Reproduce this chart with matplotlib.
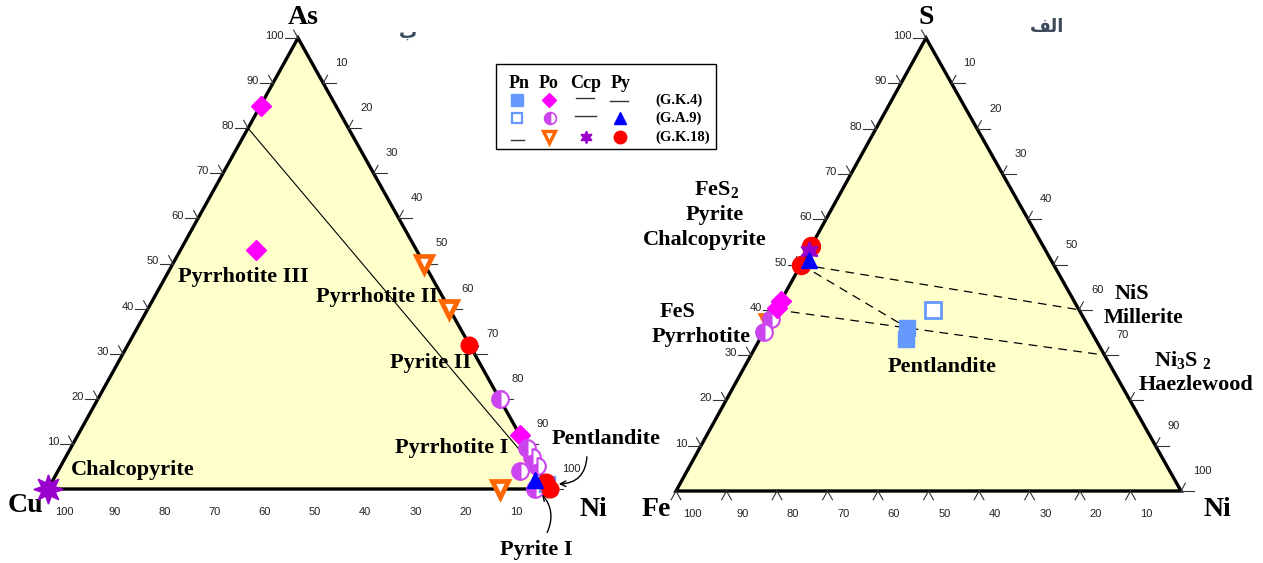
import numpy as np
import matplotlib.pyplot as plt
from matplotlib.patches import Polygon, Rectangle

plt.rcParams['mathtext.fontset'] = 'custom'
plt.rcParams['mathtext.rm'] = 'Liberation Serif:bold'
plt.rcParams['mathtext.it'] = 'Liberation Serif:bold'
plt.rcParams['mathtext.bf'] = 'Liberation Serif:bold'

# compositions in percent: (top, left, right) corner of each diagram
# left diagram: As - Cu - Ni
po_gk4_asni = [(85, 15, 0), (53, 32, 15), (12, 0, 88)]
po_ga9_asni = [(20, 0, 80), (9, 0, 91), (7, 0, 93), (5, 0, 95), (4, 4, 92), (0, 3, 97)]
po_gk18_asni = [(50, 0, 50), (40, 0, 60), (0, 10, 90)]
py_gk18_asni = [(32, 0, 68), (1.5, 0, 98.5), (0, 0, 100)]
py_ga9_asni = [(2, 2, 96)]
pn_gk4_asni = [(1, 0, 99)]
ccp_gk18_asni = [(0, 100, 0)]
tie_asni = [((80, 20, 0), (2, 0, 98))]

# right diagram: S - Fe - Ni
pn_gk4_sni = [(36, 36, 28), (33.5, 37.5, 29)]
pn_ga9_sni = [(40, 29, 31)]
po_gk4_sni = [(42, 58, 0), (40.5, 59.5, 0)]
po_ga9_sni = [(38, 62, 0), (35, 65, 0)]
po_gk18_sni = [(37, 63, 0)]
ccp_gk18_sni = [(53, 47, 0)]
py_ga9_sni = [(51, 48, 1)]
py_gk18_sni = [(54, 46, 0), (50, 50, 0)]
tie_sni = [((50, 50, 0), (40, 0, 60)),
           ((50, 50, 0), (36, 36, 28)),
           ((40, 60, 0), (30, 0, 70))]

ticks = [10, 20, 30, 40, 50, 60, 70, 80, 90, 100]

# corner positions (top, left, right) in figure pixels
tri_a = np.array([(298, 38), (48, 489), (550, 489)], float)
tri_b = np.array([(926, 38), (676, 491), (1181, 491)], float)

BLUE_SQ = '#6699ff'
MAGENTA = '#ff00ff'
PURPLE = '#cc44ee'
ORANGE = '#ff6600'
STAR = '#9900cc'
RED = '#ff0000'
TRI = '#0000ff'
serif = 'Liberation Serif'


def tern(tri, comps):
    c = np.array(comps, float) / 100.0
    c = np.atleast_2d(c)
    return c @ tri


fig = plt.figure(figsize=(12.63, 5.63), dpi=100)
ax = fig.add_axes([0, 0, 1, 1])
ax.set_xlim(0, 1263)
ax.set_ylim(563, 0)
ax.axis('off')


def frame(tri, bottom_ticks, skip_right=()):
    T, L, R = tri
    ax.add_patch(Polygon(tri, closed=True, facecolor='#ffffcc',
                         edgecolor='black', lw=2.4, zorder=1))
    tl = 11
    dTR = (T - R) / np.linalg.norm(T - R)
    dTL = (T - L) / np.linalg.norm(T - L)
    kw = dict(color='#333333', lw=0.8, zorder=2)
    for v in ticks:
        f = v / 100.0
        # left edge: top component
        p = f * T + (1 - f) * L
        ax.plot([p[0], p[0] - tl - 2], [p[1], p[1]], **kw)
        q = p + dTR * 9
        ax.plot([p[0], q[0]], [p[1], q[1]], **kw)
        ax.text(p[0] - 14, p[1] - 2, str(v), ha='right', va='center',
                fontsize=8, family='Liberation Sans', color='#222222')
        # right edge: right component
        p = f * R + (1 - f) * T
        ax.plot([p[0], p[0] + tl + 2], [p[1], p[1]], **kw)
        q = p + dTL * 9
        ax.plot([p[0], q[0]], [p[1], q[1]], **kw)
        if v not in skip_right:
            ax.text(p[0] + 12, p[1] - 20, str(v), ha='left', va='center',
                    fontsize=8, family='Liberation Sans', color='#222222')
        # bottom edge: left component
        p = f * L + (1 - f) * R
        if bottom_ticks:
            for d in (-dTR, -dTL):
                q = p + d * 10
                ax.plot([p[0], q[0]], [p[1], q[1]], **kw)
        ax.text(p[0] + 16, p[1] + 23, str(v), ha='center', va='center',
                fontsize=8, family='Liberation Sans', color='#222222')


def pts(tri, comps, **kw):
    xy = tern(tri, comps)
    ax.plot(xy[:, 0], xy[:, 1], ls='none', zorder=4, **kw)


frame(tri_a, False)
frame(tri_b, True, skip_right=(80,))

for a, b in tie_asni:
    xy = tern(tri_a, [a, b])
    ax.plot(xy[:, 0], xy[:, 1], color='black', lw=0.8, zorder=3)
for a, b in tie_sni:
    xy = tern(tri_b, [a, b])
    ax.plot(xy[:, 0], xy[:, 1], color='black', lw=0.9, ls=(0, (7, 5)), zorder=3)

half = dict(marker='o', fillstyle='left', markerfacecolor=PURPLE,
            markerfacecoloralt='white', markeredgecolor=PURPLE, mew=1.5)
vtri = dict(marker='v', markerfacecolor='white', markeredgecolor=ORANGE, mew=3.4)

# left diagram markers
pts(tri_a, po_gk4_asni, marker='D', color=MAGENTA, ms=10)
pts(tri_a, po_ga9_asni, ms=12, **half)
pts(tri_a, po_gk18_asni, ms=11, **vtri)
pts(tri_a, pn_gk4_asni, marker='s', color=BLUE_SQ, ms=12)
pts(tri_a, py_gk18_asni, marker='o', color=RED, ms=12)
pts(tri_a, py_ga9_asni, marker='^', color=TRI, ms=12)
pts(tri_a, ccp_gk18_asni, marker=(8, 1, 0), color=STAR, ms=21)

# right diagram markers
pts(tri_b, pn_gk4_sni, marker='s', color=BLUE_SQ, ms=11)
pts(tri_b, pn_ga9_sni, marker='s', markerfacecolor='white',
    markeredgecolor=BLUE_SQ, mew=2, ms=11)
pts(tri_b, po_gk18_sni, ms=11, **vtri)
pts(tri_b, po_ga9_sni, ms=12, **half)
pts(tri_b, po_gk4_sni, marker='D', color=MAGENTA, ms=10)
pts(tri_b, py_gk18_sni, marker='o', color=RED, ms=13)
pts(tri_b, ccp_gk18_sni, marker=(6, 1, 0), color=STAR, ms=14)
pts(tri_b, py_ga9_sni, marker='^', color=TRI, ms=12)

big = dict(family=serif, weight='bold', fontsize=20, ha='center', va='center')
lab = dict(family=serif, weight='bold', fontsize=16, ha='center', va='center')

# left diagram text
ax.text(303, 17, 'As', **big)
ax.text(25, 506, 'Cu', **big)
ax.text(593, 509, 'Ni', **big)
ax.text(243, 277, 'Pyrrhotite III', **lab)
ax.text(377, 297, 'Pyrrhotite II', **lab)
ax.text(431, 363, 'Pyrite II', **lab)
ax.text(452, 448, 'Pyrrhotite I', **lab)
ax.text(606, 439, 'Pentlandite', **lab)
ax.text(133, 470, 'Chalcopyrite', **lab)
ax.text(536, 550, 'Pyrite I', **lab)
ax.annotate('', xy=(556, 484), xytext=(587, 454),
            arrowprops=dict(arrowstyle='->', color='black', lw=1,
                            connectionstyle='arc3,rad=-0.5'))
ax.annotate('', xy=(540, 492), xytext=(546, 535),
            arrowprops=dict(arrowstyle='->', color='black', lw=1,
                            connectionstyle='arc3,rad=0.35'))
ax.text(408, 33, '\u0628', family='DejaVu Sans', weight='bold', fontsize=13,
        color='#3d4c5c', ha='center', va='center')

# right diagram text
ax.text(926, 17, 'S', **big)
ax.text(656, 509, 'Fe', **big)
ax.text(1217, 509, 'Ni', **big)
ax.text(717, 190, r'FeS$_2$', **lab)
ax.text(715, 215, 'Pyrite', **lab)
ax.text(705, 240, 'Chalcopyrite', **lab)
ax.text(678, 312, 'FeS', **lab)
ax.text(701, 337, 'Pyrrhotite', **lab)
ax.text(1132, 294, 'NiS', **lab)
ax.text(1143, 318, 'Millerite', fontsize=15.5,
        **{k: v for k, v in lab.items() if k != 'fontsize'})
ax.text(1183, 360, r'Ni$_3$S $_2$', **lab)
ax.text(1196, 385, 'Haezlewood', **lab)
ax.text(942, 367, 'Pentlandite', **lab)
ax.text(1047, 27, '\ufed2\ufedf\u0627', family='DejaVu Sans', weight='bold',
        fontsize=13, color='#3d4c5c', ha='center', va='center')

# legend box
ax.add_patch(Rectangle((496, 64), 220, 85, facecolor='white',
                       edgecolor='black', lw=1, zorder=5))
hdr = dict(family=serif, weight='bold', fontsize=13, ha='center', va='center', zorder=6)
for x, s in [(519, 'Pn'), (549, 'Po'), (586, 'Ccp'), (621, 'Py')]:
    ax.text(x, 84, s, **hdr)
rows = [100, 118, 137]
for y, s in zip(rows, ['(G.K.4)', '(G.A.9)', '(G.K.18)']):
    ax.text(655, y, s, family=serif, weight='bold', fontsize=10.5,
            ha='left', va='center', zorder=6)
lk = dict(ls='none', zorder=6)
ax.plot([517], [rows[0]], marker='s', color=BLUE_SQ, ms=8, **lk)
ax.plot([517], [rows[1]], marker='s', markerfacecolor='white',
        markeredgecolor=BLUE_SQ, mew=1.6, ms=7.5, **lk)
ax.plot([549], [rows[0]], marker='D', color=MAGENTA, ms=7, **lk)
ax.plot([550], [rows[1]], ms=8.5, **{**half, 'mew': 1.2}, **lk)
ax.plot([549], [rows[2]], ms=8, **{**vtri, 'mew': 2.4}, **lk)
ax.plot([586], [rows[2]], marker=(6, 1, 0), color=STAR, ms=9, **lk)
ax.plot([620], [rows[1]], marker='^', color=TRI, ms=9, **lk)
ax.plot([620], [rows[2]], marker='o', color=RED, ms=9, **lk)
dash = dict(color='#333333', lw=1, zorder=6)
ax.plot([576, 594], [98, 98], **dash)
ax.plot([610, 628], [101, 101], **dash)
ax.plot([575, 596], [116, 116], **dash)
ax.plot([511, 524], [140, 140], **dash)

fig.savefig('out.png', dpi=100)
